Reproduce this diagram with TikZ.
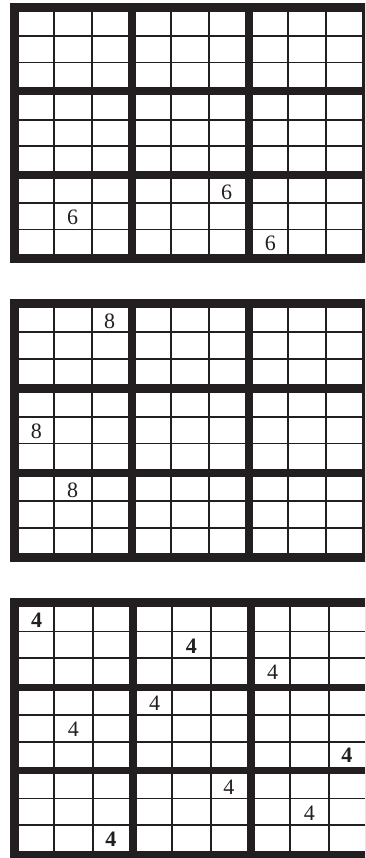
\documentclass[tikz,border=0pt]{standalone}
\usepackage{fontspec}
\setmainfont{Liberation Serif}
\definecolor{inkblack}{HTML}{231F20}
\tikzset{
  gridframe/.style = {fill=inkblack},
  cellline/.style  = {draw=inkblack, line width=1.8pt},
  digit/.style     = {inner sep=0pt, text=inkblack, yshift=-1pt, font=\fontsize{22}{22}\selectfont},
  digitbold/.style = {digit, font=\fontsize{22}{22}\selectfont\bfseries},
}
% #1 name, #2/#3 inner top left, #4/#5 block size, #6/#7 block step
\newcommand{\sudokugrid}[7]{%
  \fill[gridframe] ({#2-9},{#3-9}) rectangle ({#2+2*#6+#4+9},{#3+2*#7+#5+9});
  \foreach \bi in {0,1,2} {
    \foreach \bj in {0,1,2} {
      \pgfmathsetmacro\bx{#2+\bi*#6}
      \pgfmathsetmacro\by{#3+\bj*#7}
      \fill[white] (\bx,\by) rectangle ++(#4,#5);
      \foreach \f in {0.32,0.67} {
        \draw[cellline] (\bx+\f*#4,\by) -- ++(0,#5);
        \draw[cellline] (\bx,\by+\f*#5) -- ++(#4,0);
      }
      \foreach \ci/\cf in {1/0.16,2/0.495,3/0.835} {
        \foreach \ri/\rf in {1/0.16,2/0.495,3/0.835} {
          \pgfmathtruncatemacro\cc{3*\bi+\ci}
          \pgfmathtruncatemacro\rr{3*\bj+\ri}
          \coordinate (#1-\rr-\cc) at (\bx+\cf*#4,\by+\rf*#5);
        }
      }
    }
  }
}
\begin{document}
\begin{tikzpicture}[x=1pt,y=-1pt]
  \useasboundingbox (0,0) rectangle (365,858);
  \clip (0,0) rectangle (365,858);

  % top grid: sixes
  \sudokugrid{a}{19}{12}{108.5}{75.5}{117}{83.5}
  \node[digit] (a76) at (a-7-6) {6};
  \node[digit] (a82) at (a-8-2) {6};
  \node[digit] (a97) at (a-9-7) {6};

  % middle grid: eights
  \sudokugrid{b}{19}{308}{108.5}{76}{117}{84.5}
  \node[digit] (b13) at (b-1-3) {8};
  \node[digit] (b51) at (b-5-1) {8};
  \node[digit] (b72) at (b-7-2) {8};

  % bottom grid: fours
  \sudokugrid{c}{19}{607}{110}{76.5}{118}{83.5}
  \node[digitbold] (c11) at (c-1-1) {4};
  \node[digitbold] (c25) at (c-2-5) {4};
  \node[digit]     (c37) at (c-3-7) {4};
  \node[digit]     (c44) at (c-4-4) {4};
  \node[digit]     (c52) at (c-5-2) {4};
  \node[digitbold] (c69) at (c-6-9) {4};
  \node[digit]     (c76) at (c-7-6) {4};
  \node[digit]     (c88) at (c-8-8) {4};
  \node[digitbold] (c93) at (c-9-3) {4};
\end{tikzpicture}
\end{document}
